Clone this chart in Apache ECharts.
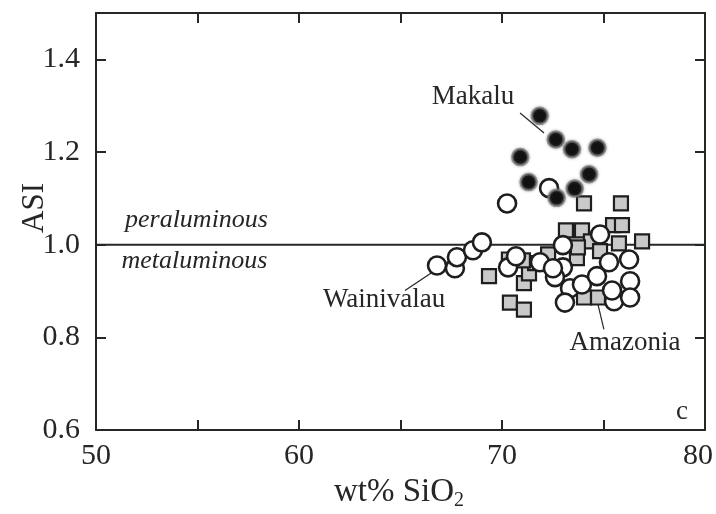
<!DOCTYPE html>
<html>
<head>
<meta charset="utf-8">
<script src="https://cdn.jsdelivr.net/npm/echarts@6/dist/echarts.min.js"></script>
<style>
  html, body { margin: 0; padding: 0; background: #fff; }
  #chart { width: 716px; height: 514px; }
</style>
</head>
<body>
<div id="chart"></div>
<script>
// wt% SiO2 vs ASI for three granite suites
const makalu = [
  [71.86, 1.278], [72.65, 1.227], [73.45, 1.206], [74.70, 1.209], [70.90, 1.189],
  [74.29, 1.152], [71.31, 1.135], [73.58, 1.121], [72.69, 1.101]
];
const wainivalau = [
  [66.80, 0.955], [67.68, 0.949], [67.78, 0.973], [68.57, 0.988], [69.01, 1.005],
  [70.25, 1.089], [72.32, 1.122], [70.30, 0.951], [70.69, 0.975], [71.87, 0.962],
  [73.00, 0.999], [74.83, 1.022], [75.27, 0.962], [76.26, 0.968], [73.00, 0.951],
  [72.61, 0.930], [73.35, 0.906], [73.94, 0.914], [74.68, 0.932], [76.31, 0.921],
  [73.10, 0.875], [75.52, 0.878], [76.31, 0.886], [72.51, 0.949], [75.42, 0.901]
];
const amazonia = [
  [69.36, 0.932], [70.34, 0.968], [70.39, 0.875], [71.08, 0.860], [71.08, 0.917],
  [71.33, 0.938], [71.63, 0.960], [72.27, 0.979], [73.15, 1.031], [73.94, 1.031],
  [75.47, 1.042], [75.91, 1.042], [74.04, 1.089], [75.86, 1.089], [74.38, 1.007],
  [75.76, 1.003], [76.90, 1.007], [73.69, 0.971], [74.83, 0.986], [74.04, 0.886],
  [74.73, 0.886], [73.74, 0.994], [71.03, 0.966]
];

// axis ranges
const xRange = [50, 80];
const yRange = [0.6, 1.5];
const xTickStep = 5;
const xLabelStep = 10;
const yTickStep = 0.2;

// peraluminous / metaluminous boundary
const asiBoundary = 1.0;

// annotations: [text, x, y, font style, size] (data units)
const notes = [
  ['Makalu', 68.57, 1.318, 'normal', 27],
  ['peraluminous', 54.95, 1.053, 'italic', 26],
  ['metaluminous', 54.85, 0.964, 'italic', 26],
  ['Wainivalau', 64.19, 0.880, 'normal', 27],
  ['Amazonia', 76.06, 0.787, 'normal', 27],
  ['c', 78.87, 0.640, 'normal', 27]
];
// leader lines from labels to their groups
const leaders = [
  [[70.89, 1.284], [72.07, 1.241]],
  [[65.22, 0.901], [66.55, 0.940]],
  [[74.68, 0.880], [75.02, 0.817]]
];

const FONT = '"Liberation Serif", "Times New Roman", serif';
const INK = '#262626';

const chart = echarts.init(document.getElementById('chart'), null, { renderer: 'canvas' });

const baseX = {
  type: 'value', min: xRange[0], max: xRange[1], interval: xTickStep,
  splitLine: { show: false },
  axisLine: { show: true, onZero: false, lineStyle: { color: INK, width: 2 } },
  axisTick: { show: true, inside: true, length: 10, lineStyle: { color: INK, width: 2 } }
};
const baseY = {
  type: 'value', min: yRange[0], max: yRange[1], interval: yTickStep,
  splitLine: { show: false },
  axisLine: { show: true, onZero: false, lineStyle: { color: INK, width: 2 } },
  axisTick: { show: true, inside: true, length: 10, lineStyle: { color: INK, width: 2 } }
};

const option = {
  backgroundColor: '#fff',
  animation: false,
  grid: { left: 96, right: 11, top: 13, bottom: 84, containLabel: false },
  xAxis: [
    Object.assign({}, baseX, {
      position: 'bottom',
      axisLabel: {
        margin: 11, color: INK, fontFamily: FONT, fontSize: 30,
        formatter: v => {
          if (Math.abs(v % xLabelStep) > 1e-9) return '';
          // last label is pulled in so it stays inside the frame
          return v === xRange[1] ? '{edge|' + v + '}' : String(v);
        },
        rich: { edge: { fontFamily: FONT, fontSize: 30, color: INK, padding: [0, 14, 0, 0] } }
      }
    }),
    Object.assign({}, baseX, { position: 'top', axisLabel: { show: false } })
  ],
  yAxis: [
    Object.assign({}, baseY, {
      position: 'left',
      axisLabel: {
        margin: 16, color: INK, fontFamily: FONT, fontSize: 30, showMaxLabel: false,
        formatter: v => v.toFixed(1)
      }
    }),
    Object.assign({}, baseY, { position: 'right', axisLabel: { show: false } })
  ],
  series: [
    {
      type: 'line', data: [[xRange[0], asiBoundary], [xRange[1], asiBoundary]],
      symbol: 'none', silent: true, z: 1,
      lineStyle: { color: INK, width: 2 }
    },
    ...leaders.map(seg => ({
      type: 'line', data: seg, symbol: 'none', silent: true, z: 1,
      lineStyle: { color: INK, width: 1.2 }
    })),
    {
      name: 'Amazonia', type: 'scatter', data: amazonia, symbol: 'rect', symbolSize: 14, z: 2,
      itemStyle: { color: '#c9c9c9', borderColor: '#1e1e1e', borderWidth: 2.2, opacity: 1 }
    },
    {
      name: 'Wainivalau', type: 'scatter', data: wainivalau, symbol: 'circle', symbolSize: 18, z: 3,
      itemStyle: { color: '#ffffff', borderColor: '#1e1e1e', borderWidth: 2.6, opacity: 1 }
    },
    {
      name: 'Makalu', type: 'scatter', data: makalu, symbol: 'circle', symbolSize: 16, z: 4,
      itemStyle: {
        color: '#111111', borderColor: 'rgba(120,120,120,0.7)', borderWidth: 2.5, opacity: 1,
        shadowBlur: 3, shadowColor: 'rgba(100,100,100,0.6)'
      }
    }
  ]
};
chart.setOption(option);

// axis titles and annotations, placed through the axes' own scales
function place() {
  const g = [];
  notes.forEach(([txt, x, y, style, size]) => {
    const p = chart.convertToPixel({ xAxisIndex: 0, yAxisIndex: 0 }, [x, y]);
    g.push({
      type: 'text', x: p[0], y: p[1], z: 10,
      style: {
        text: txt, fill: INK, font: style + ' ' + size + 'px ' + FONT,
        align: 'center', verticalAlign: 'middle'
      }
    });
  });
  g.push({
    type: 'text', x: 35, y: 208, rotation: Math.PI / 2, z: 10,
    style: { text: 'ASI', fill: INK, font: '31px ' + FONT, align: 'center', verticalAlign: 'middle' }
  });
  g.push({
    type: 'text', x: 399, y: 492, z: 10,
    style: {
      text: 'wt% SiO{sub|2}', fill: INK, font: '33px ' + FONT,
      align: 'center', verticalAlign: 'middle',
      rich: { sub: { fontFamily: FONT, fontSize: 20, fill: INK, padding: [17, 0, 0, 0] } }
    }
  });
  chart.setOption({ graphic: g });
}
place();
</script>
</body>
</html>
